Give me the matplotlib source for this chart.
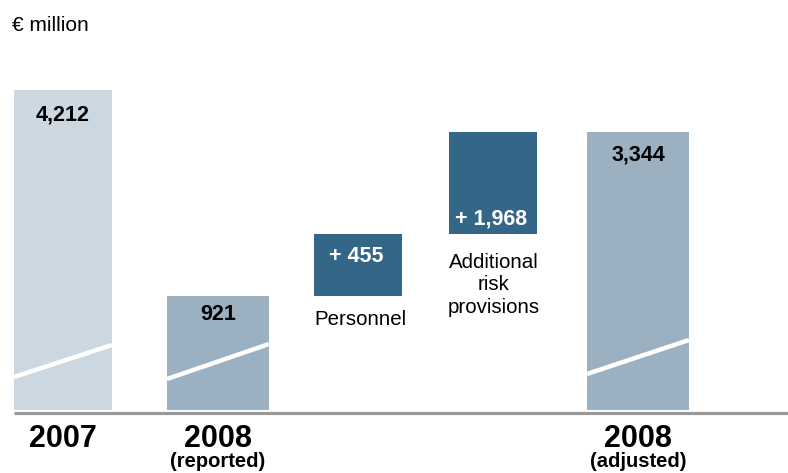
import numpy as np
import matplotlib
matplotlib.use("Agg")
import matplotlib.pyplot as plt
import matplotlib.transforms as mtransforms

plt.rcParams['font.family'] = ['Liberation Sans', 'DejaVu Sans']

# data (EUR million)
labels = ["2007", "2008", "Personnel", "Additional\nrisk\nprovisions", "2008"]
sublabels = ["", "(reported)", "", "", "(adjusted)"]
val_2007 = 4212
val_2008_reported = 921
step_personnel = 455
step_risk = 1968
val_2008_adjusted = 3344

# the chart uses a broken (non-linear) axis: value -> pixel height above base
scale_vals = [0, 921, 1376, 3344, 4212]
scale_px = [0, 114, 176, 278, 320]


def fwd(v):
    return np.interp(v, scale_vals, scale_px)


def inv(p):
    return np.interp(p, scale_px, scale_vals)


W, H = 788, 473
fig = plt.figure(figsize=(W / 100, H / 100), dpi=100)
base_px = 410
top_px = 90
ax = fig.add_axes([0, (H - base_px) / H, 1, (base_px - top_px) / H])
ax.set_yscale('function', functions=(fwd, inv))
ax.set_xlim(0, W)
ax.set_ylim(0, val_2007)
ax.axis('off')

light = "#cbd8e2"
mid = "#9bb1c2"
dark = "#336687"

# bars
xs = [63, 218, 358, 493, 638]
widths = [98, 102, 88, 88, 102]
bottoms = [0, 0, val_2008_reported, val_2008_reported + step_personnel, 0]
heights = [val_2007, val_2008_reported, step_personnel, step_risk, val_2008_adjusted]
colors = [light, mid, dark, dark, mid]
ax.bar(xs, heights, width=widths, bottom=bottoms, color=colors, linewidth=0)

# white break lines on the full bars
tr = mtransforms.blended_transform_factory(ax.transData, ax.transAxes)
breaks = [(0, 33, 65), (1, 31, 66), (4, 36, 70)]
for i, h0, h1 in breaks:
    x0 = xs[i] - widths[i] / 2
    x1 = xs[i] + widths[i] / 2
    ax.plot([x0, x1], [h0 / 320, h1 / 320], color="white", lw=3.2,
            transform=tr, solid_capstyle='butt', clip_on=False)

# baseline
ax.plot([14, W], [-2.5 / 320, -2.5 / 320], color="#999999", lw=2.3,
        transform=tr, clip_on=False, solid_capstyle='butt')


def ftext(x, y, s, **kw):
    fig.text(x / W, 1 - y / H, s, **kw)


ftext(12, 31, "€ million", fontsize=15, va='baseline', ha='left')

# value labels
ftext(xs[0], 120, f"{val_2007:,}", fontsize=15.5, fontweight='bold', ha='center', va='baseline')
ftext(xs[1], 320, f"{val_2008_reported:,}", fontsize=15.5, fontweight='bold', ha='center', va='baseline')
ftext(xs[4], 160, f"{val_2008_adjusted:,}", fontsize=15.5, fontweight='bold', ha='center', va='baseline')
ftext(356, 262, f"+ {step_personnel:,}", fontsize=15.5, fontweight='bold', ha='center',
      va='baseline', color='white')
ftext(491, 224, f"+ {step_risk:,}", fontsize=15.5, fontweight='bold', ha='center',
      va='baseline', color='white')

# step labels
ftext(360, 325, labels[2], fontsize=14.8, ha='center', va='baseline')
for k, line in enumerate(labels[3].split("\n")):
    ftext(494, 268 + k * 22.5, line, fontsize=14.8, ha='center', va='baseline')

# category labels
for i in [0, 1, 4]:
    ftext(xs[i], 447, labels[i], fontsize=22, fontweight='bold', ha='center', va='baseline')
    if sublabels[i]:
        ftext(xs[i], 467, sublabels[i], fontsize=14.5, fontweight='bold', ha='center', va='baseline')

fig.savefig("out.png", dpi=100)
